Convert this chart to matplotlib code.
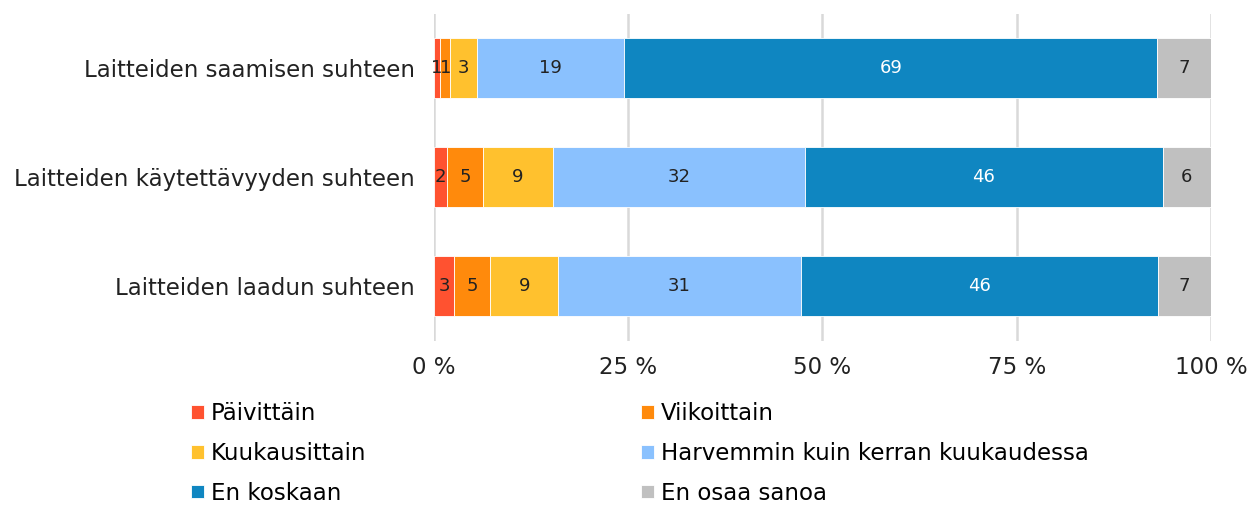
import matplotlib
matplotlib.use("Agg")
import matplotlib.pyplot as plt
import numpy as np

plt.rcParams['font.family'] = ['DejaVu Sans']

# kategoriat ylhäältä alas
categories = ['Laitteiden saamisen suhteen',
              'Laitteiden käytettävyyden suhteen',
              'Laitteiden laadun suhteen']

series = ['Päivittäin', 'Viikoittain', 'Kuukausittain',
          'Harvemmin kuin kerran kuukaudessa', 'En koskaan', 'En osaa sanoa']

# osuudet (%) kuvasta luettuna
paivittain = [0.8, 1.7, 2.6]
viikoittain = [1.3, 4.6, 4.6]
kuukausittain = [3.4, 9.0, 8.8]
harvemmin = [19.0, 32.4, 31.2]
en_koskaan = [68.6, 46.1, 46.0]
en_osaa = [6.9, 6.2, 6.8]

# näkyvät arvotunnisteet
labels = [[1, 2, 3], [1, 5, 5], [3, 9, 9], [19, 32, 31], [69, 46, 46], [7, 6, 7]]

colors = ['#FF5230', '#FF8A0C', '#FFC12E', '#8AC1FE', '#0F86C1', '#C0C0C0']
text_colors = ['#222222'] * 4 + ['white', '#222222']

data = [paivittain, viikoittain, kuukausittain, harvemmin, en_koskaan, en_osaa]

fig = plt.figure(figsize=(12.57, 5.05), dpi=100)
ax = fig.add_axes([434 / 1257, 1 - 340.5 / 505, 777 / 1257, 327 / 505])

y = np.arange(len(categories))
left = np.zeros(len(categories))
for i, vals in enumerate(data):
    vals = np.array(vals)
    bars = ax.barh(y, vals, left=left, height=0.55, color=colors[i],
                   edgecolor='white', linewidth=0.6, label=series[i], zorder=3)
    for j, b in enumerate(bars):
        ax.text(left[j] + vals[j] / 2, y[j], str(labels[i][j]),
                ha='center', va='center', fontsize=13, color=text_colors[i], zorder=4)
    left += vals

ax.set_xlim(0, 100)
ax.set_ylim(2.5, -0.5)
ax.set_yticks(y)
ax.set_yticklabels(categories, fontsize=16.5, color='#222222')
ax.set_xticks([0, 25, 50, 75, 100])
ax.set_xticklabels(['0 %', '25 %', '50 %', '75 %', '100 %'], fontsize=16.5, color='#222222')
ax.tick_params(axis='both', length=0)
ax.tick_params(axis='y', pad=14)
ax.tick_params(axis='x', pad=11)
ax.grid(axis='x', color='#D9D9D9', linewidth=1.8, zorder=0)
for s in ax.spines.values():
    s.set_visible(False)

# legenda riveittäin: järjestetään sarakejärjestykseen
handles, lbls = ax.get_legend_handles_labels()
order = [0, 2, 4, 1, 3, 5]
fig.legend([handles[k] for k in order], [lbls[k] for k in order],
           loc='upper left', bbox_to_anchor=(182 / 1257, 1 - 393 / 505),
           ncol=2, frameon=False, fontsize=16.5, handlelength=0.55, handleheight=0.55,
           handletextpad=0.3, columnspacing=12.0, labelspacing=0.73, borderaxespad=0)

fig.savefig('out.png', dpi=100)
